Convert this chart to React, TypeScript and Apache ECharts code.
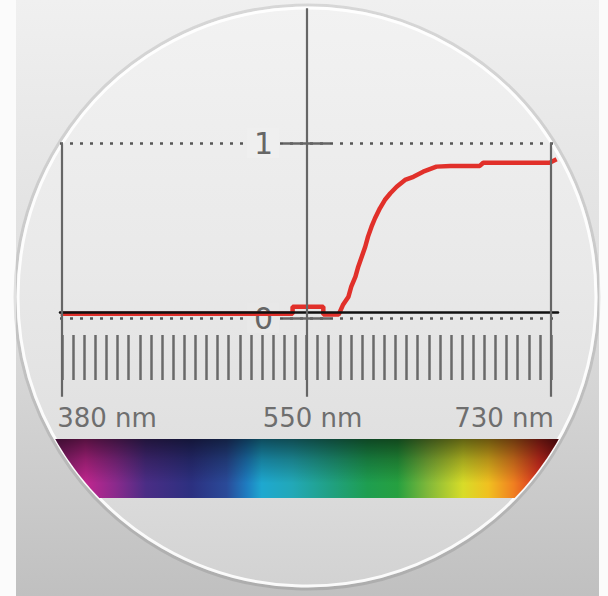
import React, { useEffect, useRef } from "react";
import * as echarts from "echarts";

// Reflectance curve (wavelength in nm, reflectance 0..1)
const wavelengths = [379, 545, 545, 567, 567, 578, 581, 585, 587, 590, 592, 594.5, 597, 599, 601.5, 604, 607.5, 611, 615, 619.5, 625.5, 631.5, 638.5, 648, 658, 679, 681.5, 729, 734];
const reflectance = [0.025, 0.025, 0.065, 0.065, 0.02, 0.02, 0.074, 0.122, 0.179, 0.236, 0.293, 0.35, 0.407, 0.465, 0.522, 0.57, 0.627, 0.674, 0.713, 0.75, 0.789, 0.807, 0.836, 0.865, 0.869, 0.869, 0.887, 0.887, 0.907];
const scaleLabels = ["380 nm", "550 nm", "730 nm"];
const scaleHalfSteps = 22; // decorative ruler: 22 steps each side of centre

const FONT = "DejaVu Sans";

export default function App() {
  const ref = useRef<HTMLDivElement>(null);
  useEffect(() => {
    const chart = echarts.init(ref.current!, null, { renderer: "svg" });
    const cx = 307, cy = 297, r = 289;
    const specTop = 439, specBot = 498;
    const pts: number[][] = [];
    for (let i = 0; i <= 12; i++) {
      const y = specTop + ((specBot - specTop) * i) / 12;
      pts.push([cx - Math.sqrt(r * r - (y - cy) * (y - cy)), y]);
    }
    for (let i = 12; i >= 0; i--) {
      const y = specTop + ((specBot - specTop) * i) / 12;
      pts.push([cx + Math.sqrt(r * r - (y - cy) * (y - cy)), y]);
    }
    const specStops = [
      [0.0, "#8a1f70"], [0.06, "#c0268e"], [0.12, "#8a2a8c"], [0.18, "#4a2d85"],
      [0.27, "#2c3080"], [0.34, "#2a4a98"], [0.38, "#1e7cc0"], [0.41, "#1ea8d0"],
      [0.47, "#22a8b8"], [0.55, "#20a080"], [0.62, "#1e9e50"], [0.68, "#26a040"],
      [0.74, "#80b83a"], [0.81, "#d8dc28"], [0.86, "#f0c020"], [0.91, "#f08020"],
      [0.96, "#d83020"], [1.0, "#901018"],
    ].map(([offset, color]) => ({ offset: offset as number, color: color as string }));

    const txt = { fontSize: 26, fontFamily: FONT, color: "#6e6e6e", lineHeight: 26 };
    const labelRich = {
      s0: { ...txt, padding: [0, 0, 0, 90] },
      s1: { ...txt, padding: [0, 0, 0, 12] },
      s2: { ...txt, padding: [0, 94, 0, 0] },
    };
    const yTxt = { fontSize: 30, fontFamily: FONT, color: "#666", padding: [0, 6, 0, 7] };

    chart.setOption({
      animation: false,
      graphic: [
        { type: "rect", z: -10, shape: { x: 0, y: 0, width: 608, height: 596 }, style: { fill: "#fbfbfb" } },
        {
          type: "rect", z: -9, shape: { x: 16, y: 0, width: 583, height: 596 },
          style: {
            fill: new echarts.graphic.LinearGradient(0, 0, 0, 1, [
              { offset: 0, color: "#f0f0f0" }, { offset: 0.5, color: "#dedede" }, { offset: 1, color: "#c0c0c0" },
            ]),
          },
        },
        { type: "circle", z: -8, shape: { cx, cy, r: r + 3 }, style: { fill: "none", stroke: "rgba(0,0,0,0.10)", lineWidth: 3 } },
        {
          type: "circle", z: -7, shape: { cx, cy, r },
          style: {
            fill: new echarts.graphic.LinearGradient(0, 0, 0, 1, [
              { offset: 0, color: "#f2f2f2" }, { offset: 0.45, color: "#e9e9e9" },
              { offset: 0.75, color: "#e0e0e0" }, { offset: 1, color: "#d2d2d2" },
            ]),
            stroke: "rgba(255,255,255,0.9)", lineWidth: 3,
          },
        },
        {
          type: "polygon", z: -6, shape: { points: pts },
          style: { fill: new echarts.graphic.LinearGradient(0, 0, 1, 0, specStops) },
        },
        {
          type: "polygon", z: -5, shape: { points: pts },
          style: {
            fill: new echarts.graphic.LinearGradient(0, 0, 0, 1, [
              { offset: 0, color: "rgba(0,0,0,0.55)" }, { offset: 0.35, color: "rgba(0,0,0,0.25)" },
              { offset: 0.75, color: "rgba(0,0,0,0)" }, { offset: 1, color: "rgba(0,0,0,0)" },
            ]),
          },
        },
      ],
      grid: [
        { left: 60, width: 498, top: 143, height: 175, outerBoundsMode: "none", containLabel: false },
        { left: 62, width: 489, top: 8.25, height: 388.5, outerBoundsMode: "none", containLabel: false },
      ],
      xAxis: [
        {
          type: "value", gridIndex: 0, min: 378.5, max: 735, position: "bottom", offset: -6, z: 3,
          axisLine: { show: true, onZero: false, lineStyle: { color: "#111", width: 2.5 } },
          axisTick: { show: false }, axisLabel: { show: false }, splitLine: { show: false },
        },
        {
          type: "value", gridIndex: 1, min: -scaleHalfSteps, max: scaleHalfSteps, interval: 1,
          position: "bottom", offset: -16.75,
          axisLine: { show: false, onZero: false },
          axisTick: { show: true, inside: true, length: 45, lineStyle: { color: "#6a6a6a", width: 2.5 } },
          splitLine: { show: false },
          axisLabel: {
            show: true, interval: 0, margin: 25, showMinLabel: true, showMaxLabel: true,
            fontSize: 26, fontFamily: FONT, color: "#6e6e6e",
            formatter: (v: number) => {
              const idx = (v + scaleHalfSteps) / scaleHalfSteps;
              if (Number.isInteger(idx) && idx >= 0 && idx < scaleLabels.length) return `{s${idx}|${scaleLabels[idx]}}`;
              return "";
            },
            rich: labelRich,
          },
        },
      ],
      yAxis: [
        {
          type: "value", gridIndex: 0, min: 0, max: 1, interval: 1, position: "left", offset: -247, z: 1,
          axisLine: { show: false, onZero: false },
          axisTick: { show: true, inside: false, length: 24, lineStyle: { color: "#666", width: 2.5 } },
          axisLabel: {
            show: true, margin: 28, fontSize: 30, fontFamily: FONT, color: "#666",
            formatter: (v: number) => (v >= 1 ? `{a|${v}}` : `{b|${v}}`),
            rich: {
              a: { ...yTxt, backgroundColor: "#efefef" },
              b: { ...yTxt, backgroundColor: "#e8e8e8" },
            },
          },
          splitLine: { show: false },
        },
        {
          type: "value", gridIndex: 0, min: 0, max: 1, interval: 1, position: "left", offset: -247, z: 0,
          axisLine: { show: false, onZero: false },
          axisTick: { show: true, inside: true, length: 23, lineStyle: { color: "#666", width: 2.5 } },
          axisLabel: { show: false },
          splitLine: { show: true, lineStyle: { color: "#555", width: 2.5, type: [3, 7] } },
        },
        {
          type: "value", gridIndex: 1, min: -0.45, max: 1.77, show: false,
          axisLine: { show: false, onZero: false }, splitLine: { show: false },
        },
      ],
      series: [
        {
          type: "line", xAxisIndex: 0, yAxisIndex: 0, z: 2, clip: false,
          symbol: "none", showSymbol: false,
          lineStyle: { color: "#e1302a", width: 4.5 },
          data: wavelengths.map((w, i) => [w, reflectance[i]]),
        },
        {
          type: "line", xAxisIndex: 1, yAxisIndex: 2, z: 1, data: [],
          markLine: {
            silent: true, symbol: ["none", "none"], label: { show: false }, animation: false,
            lineStyle: { color: "#666", width: 2.2, type: "solid" },
            data: [
              [{ coord: [0, 1.77] }, { coord: [0, -0.45] }],
              [{ coord: [-scaleHalfSteps, 1] }, { coord: [-scaleHalfSteps, -0.45] }],
              [{ coord: [scaleHalfSteps, 1] }, { coord: [scaleHalfSteps, -0.45] }],
            ],
          },
        },
      ],
    });
    return () => chart.dispose();
  }, []);
  return <div ref={ref} style={{ position: "absolute", left: 0, top: 0, width: 608, height: 596 }} />;
}
